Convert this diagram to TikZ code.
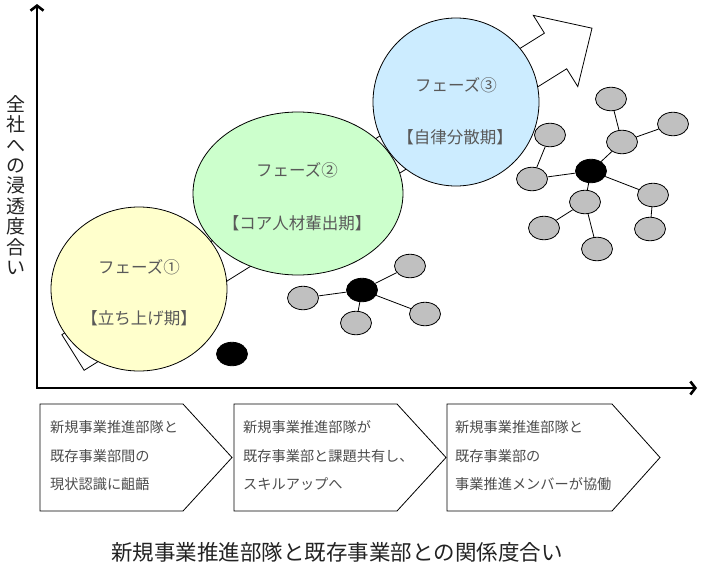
\documentclass[tikz,border=0pt]{standalone}
\usepackage{fontspec}
\setmainfont{Noto Sans CJK JP}
\usetikzlibrary{shapes.geometric,arrows.meta}
\definecolor{cyellow}{HTML}{FFFFCC}
\definecolor{cgreen}{HTML}{CCFFCC}
\definecolor{cblue}{HTML}{CCECFF}
\definecolor{nodegray}{HTML}{C0C0C0}
\definecolor{txtgray}{HTML}{595959}
\definecolor{boxtxt}{HTML}{4D4D4D}
\definecolor{labeltxt}{HTML}{222222}
\begin{document}
\begin{tikzpicture}[x=1pt,y=1pt,
  phase/.style={ellipse, draw=black, line width=0.8pt, inner sep=0pt},
  phasetxt/.style={text=txtgray, font=\fontsize{16.5}{20}\selectfont, inner sep=0pt},
  net/.style={ellipse, draw=black, line width=0.8pt, minimum width=31pt, minimum height=23.5pt, inner sep=0pt},
  grayn/.style={net, fill=nodegray},
  blackn/.style={net, fill=black},
  link/.style={line width=0.8pt},
  boxshape/.style={draw=black, line width=0.8pt, fill=white},
  boxtext/.style={anchor=west, align=left, text=boxtxt, font=\fontsize{14.2}{28.5}\selectfont, inner sep=0pt},
  axis/.style={line width=2.6pt, line join=miter, {Straight Barb[length=5pt,width=13pt]}-{Straight Barb[length=5pt,width=13pt]}}
]
\useasboundingbox (0,0) rectangle (701,-570);

% big background arrow
\begin{scope}[shift={(73,-352.5)}, rotate=32]
\draw[line width=0.8pt, fill=white] (0,-21) -- (569,-21) -- (569,-42) -- (612,0) -- (569,42) -- (569,21) -- (0,21) -- cycle;
\end{scope}

% phases
\node[phase, fill=cyellow, minimum width=176pt, minimum height=164pt] (p1) at (139,-289) {};
\node[phase, fill=cgreen, minimum width=210pt, minimum height=163pt] (p2) at (298,-193.5) {};
\node[phase, fill=cblue, minimum width=166pt, minimum height=168pt] (p3) at (456,-102) {};

\node[phasetxt] (t1a) at (139,-267) {フェーズ①};
\node[phasetxt] (t1b) at (139,-318) {【立ち上げ期】};
\node[phasetxt] (t2a) at (297,-170) {フェーズ②};
\node[phasetxt] (t2b) at (297,-223) {【コア人材輩出期】};
\node[phasetxt] (t3a) at (456,-85) {フェーズ③};
\node[phasetxt] (t3b) at (455,-137) {【自律分散期】};

% single node
\node[blackn] (d0) at (232,-354) {};

% network 1
\node[blackn] (h1) at (362,-290) {};
\node[grayn] (a1) at (303,-298) {};
\node[grayn] (a2) at (410,-266) {};
\node[grayn] (a3) at (356,-323) {};
\node[grayn] (a4) at (425,-314) {};
\draw[link] (h1) -- (a1);
\draw[link] (h1) -- (a2);
\draw[link] (h1) -- (a3);
\draw[link] (h1) -- (a4);

% network 2
\node[blackn] (h2) at (591,-171) {};
\node[grayn] (b1) at (611,-99) {};
\node[grayn] (b2) at (622,-142) {};
\node[grayn] (b3) at (673,-124) {};
\node[grayn] (b4) at (550,-135) {};
\node[grayn] (b5) at (532,-179) {};
\node[grayn] (b6) at (653,-195) {};
\node[grayn] (b7) at (585,-202) {};
\node[grayn] (b8) at (544,-228) {};
\node[grayn] (b9) at (650,-229) {};
\node[grayn] (b10) at (597,-249) {};
\draw[link] (b1) -- (b2);
\draw[link] (b2) -- (b3);
\draw[link] (b2) -- (h2);
\draw[link] (b4) -- (b5);
\draw[link] (b5) -- (h2);
\draw[link] (h2) -- (b6);
\draw[link] (b6) -- (b9);
\draw[link] (h2) -- (b7);
\draw[link] (b7) -- (b8);
\draw[link] (b7) -- (b10);

% axes
\coordinate (O) at (37,-388);
\coordinate (ytop) at (37,-4);
\coordinate (xend) at (697,-388);
\draw[axis] (ytop) -- (O) -- (xend);

\node[font=\fontsize{19}{20.4}\selectfont, align=center, inner sep=0pt, text=labeltxt] (ylab) at (16,-185) {全\\社\\へ\\の\\浸\\透\\度\\合\\い};

% step boxes
\draw[boxshape] (40,-404) -- (183,-404) -- (232,-457.5) -- (183,-511) -- (40,-511) -- cycle;
\draw[boxshape] (234,-404) -- (397,-404) -- (446,-457.5) -- (397,-511) -- (234,-511) -- cycle;
\draw[boxshape] (447,-404) -- (612,-404) -- (660,-457.5) -- (612,-511) -- (447,-511) -- cycle;

\node[boxtext] (bt1) at (50,-456) {新規事業推進部隊と\\既存事業部間の\\現状認識に齟齬};
\node[boxtext] (bt2) at (243,-456) {新規事業推進部隊が\\既存事業部と課題共有し、\\スキルアップへ};
\node[boxtext] (bt3) at (455,-456) {新規事業推進部隊と\\既存事業部の\\事業推進メンバーが協働};

\node[font=\fontsize{21.5}{24}\selectfont, text=labeltxt, inner sep=0pt] (xlab) at (337,-552) {新規事業推進部隊と既存事業部との関係度合い};
\end{tikzpicture}
\end{document}
